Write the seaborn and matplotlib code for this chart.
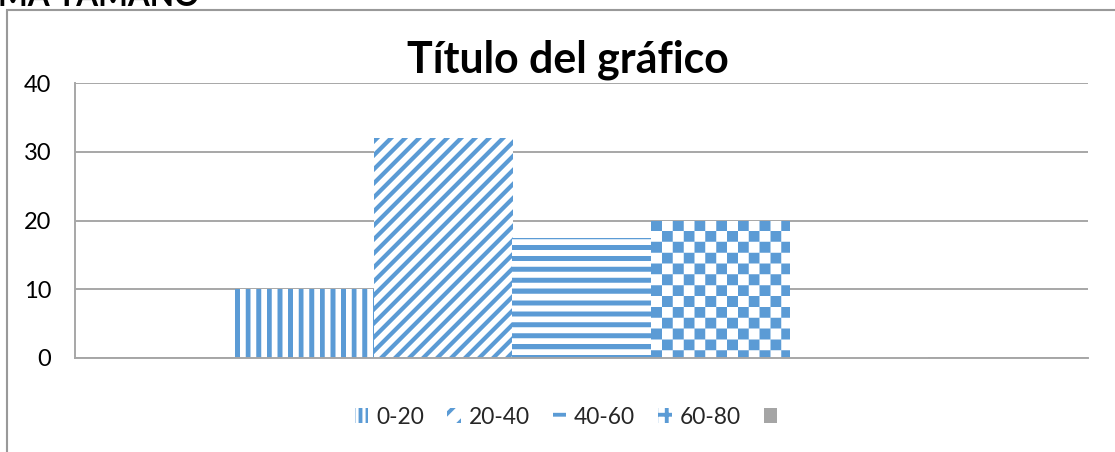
import numpy as np
import pandas as pd
import matplotlib
matplotlib.use("Agg")
import matplotlib.pyplot as plt
from matplotlib.patches import Patch, Rectangle
import seaborn as sns

# ---- data -------------------------------------------------------------
rangos = ["0-20", "20-40", "40-60", "60-80", ""]
valores = [10, 32, 17.5, 20, 0]
grupo = [""] * len(rangos)
y_ticks = [0, 10, 20, 30, 40]
titulo = "Título del gráfico"
encabezado = "MA TAMAÑO"

# ---- style ------------------------------------------------------------
AZUL = "#5B9BD5"
GRIS = "#A5A5A5"
LINEA = "#A6A6A6"
colores = [AZUL, AZUL, AZUL, AZUL, GRIS]
tramas = ["vertical", "diagonal", "horizontal", "cuadros", None]
tramas_leyenda = ["|||", "//", "--", "++", None]

sns.set_style("white")
plt.rcParams["font.family"] = ["Lato", "DejaVu Sans"]
plt.rcParams["hatch.linewidth"] = 2.2

DPI = 126
W, H = 1115, 452
fig = plt.figure(figsize=(W / DPI, H / DPI), dpi=DPI)
ax = fig.add_axes([75 / W, 1 - 358 / H, (1088 - 75) / W, (358 - 83) / H])

df = pd.DataFrame({"grupo": grupo, "rango": rangos, "valor": valores})
sns.barplot(data=df, x="grupo", y="valor", hue="rango", hue_order=rangos,
            palette=dict(zip(rangos, colores)), saturation=1,
            width=0.684, gap=0, errorbar=None, legend=False, ax=ax, zorder=2)

ax.set_xlim(-0.5, 0.5)
ax.set_ylim(0, 40)
ax.set_yticks(y_ticks)
ax.set_xticks([])
ax.set_xlabel("")
ax.set_ylabel("")


def textura(tipo, w, h, color, ss=4):
    """Return an RGBA fill pattern of w x h screen pixels."""
    yy, xx = np.mgrid[0:h * ss, 0:w * ss] / ss
    if tipo == "vertical":
        m = ((xx / 10.6) % 1) < 0.46
    elif tipo == "diagonal":
        m = (((xx + yy) / 14.0) % 1) < 0.42
    elif tipo == "horizontal":
        m = (((yy + 3) / 10.9) % 1) < 0.46
    else:
        c = 10.85
        m = ((np.floor(xx / c) + np.floor(yy / c)) % 2) == 0
    cov = m.reshape(h, ss, w, ss).mean(axis=(1, 3))
    rgb = np.array(matplotlib.colors.to_rgb(color))
    img = np.ones((h, w, 4))
    img[..., :3] = 1 - cov[..., None] * (1 - rgb)
    return img


for cont, color, trama in zip(ax.containers, colores, tramas):
    for bar in cont:
        if trama is None or bar.get_height() <= 0:
            continue
        bar.set_facecolor("white")
        bar.set_linewidth(0)
        bb = bar.get_window_extent()
        w, h = int(round(bb.width)), int(round(bb.height))
        x0, y0 = bar.get_x(), bar.get_y()
        im = ax.imshow(textura(trama, w, h, color),
                       extent=(x0, x0 + bar.get_width(), y0, y0 + bar.get_height()),
                       origin="upper", interpolation="nearest", aspect="auto",
                       zorder=2.1)
        im.set_clip_path(bar)

ax.set_xlim(-0.5, 0.5)
ax.set_ylim(0, 40)

# axes look
ax.set_axisbelow(True)
ax.yaxis.grid(True, color=LINEA, lw=1.1)
for s in ("top", "right"):
    ax.spines[s].set_visible(False)
for s in ("left", "bottom"):
    ax.spines[s].set_color(LINEA)
    ax.spines[s].set_linewidth(1.1)
ax.tick_params(axis="y", length=4.6, width=1.1, color=LINEA, pad=9.0,
               labelsize=13.5, labelcolor="black")

# legend
handles = []
for color, h in zip(colores, tramas_leyenda):
    if h:
        handles.append(Patch(facecolor="white", edgecolor=color, hatch=h, lw=0))
    else:
        handles.append(Patch(facecolor=color, edgecolor=color, lw=0))
fig.legend(handles, rangos, loc="center", bbox_to_anchor=(570 / W, 1 - 417 / H),
           ncol=5, frameon=False, fontsize=13, handlelength=0.6,
           handleheight=0.6, handletextpad=0.35, columnspacing=1.0)

# titles
fig.text(568 / W, 1 - 72 / H, titulo, ha="center", va="baseline",
         fontsize=24.5, fontweight="bold", color="black")
fig.text(-0.002, 1 - 6 / H, encabezado, ha="left", va="baseline",
         fontsize=18, fontweight="bold", color="black")

# chart area border
fig.add_artist(Rectangle((7 / W, -0.1), 1.2, (1 - 10 / H) + 0.1,
                         transform=fig.transFigure, fill=False,
                         edgecolor="#999999", lw=1.2))

fig.savefig("out.png", dpi=DPI)
